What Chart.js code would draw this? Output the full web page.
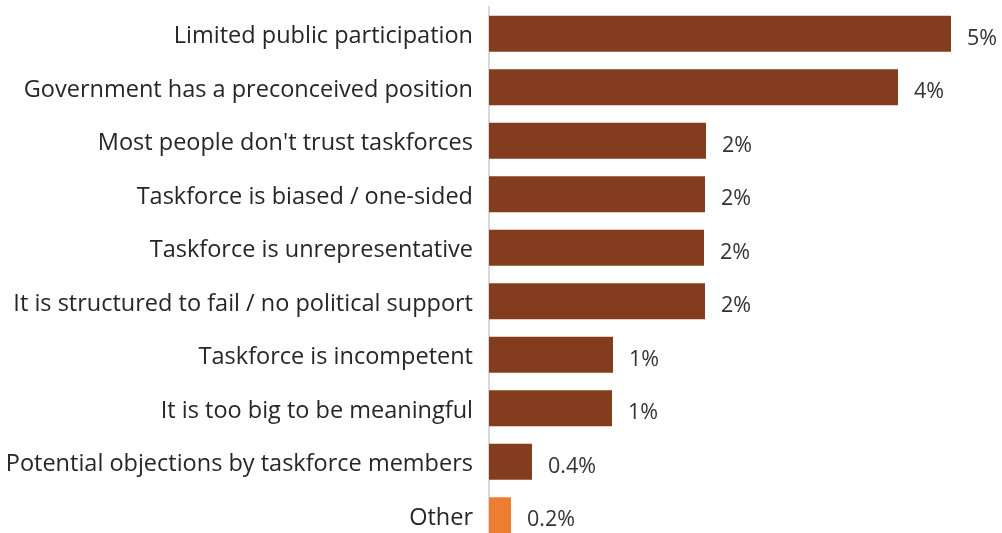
<!DOCTYPE html>
<html>
<head>
<meta charset="utf-8">
<script src="https://cdn.jsdelivr.net/npm/chart.js@4/dist/chart.umd.min.js"></script>
<style>
  html, body { margin: 0; padding: 0; background: #fff; overflow: hidden; }
  #wrap { width: 1002px; height: 550px; position: relative; }
</style>
</head>
<body>
<div id="wrap"><canvas id="c" width="1002" height="550"></canvas></div>
<script>
const categories = [
  "Limited public participation",
  "Government has a preconceived position",
  "Most people don't trust taskforces",
  "Taskforce is biased / one-sided",
  "Taskforce is unrepresentative",
  "It is structured to fail / no political support",
  "Taskforce is incompetent",
  "It is too big to be meaningful",
  "Potential objections by taskforce members",
  "Other"
];
const values = [4.62, 4.09, 2.17, 2.16, 2.15, 2.16, 1.24, 1.23, 0.43, 0.22];
const valueLabels = ["5%", "4%", "2%", "2%", "2%", "2%", "1%", "1%", "0.4%", "0.2%"];
const barColors = ["#843C1E","#843C1E","#843C1E","#843C1E","#843C1E","#843C1E","#843C1E","#843C1E","#843C1E","#ED7D31"];

const FONT = "'Open Sans', Lato, sans-serif";

const valueLabelPlugin = {
  id: 'valueLabels',
  afterDatasetsDraw(chart) {
    const ctx = chart.ctx;
    const meta = chart.getDatasetMeta(0);
    ctx.save();
    ctx.font = "21.5px " + FONT;
    ctx.fillStyle = "#333333";
    ctx.textAlign = "left";
    ctx.textBaseline = "middle";
    meta.data.forEach((bar, i) => {
      ctx.fillText(valueLabels[i], bar.x + 16, bar.y + 5);
    });
    ctx.restore();
  }
};

new Chart(document.getElementById('c'), {
  type: 'bar',
  data: {
    labels: categories,
    datasets: [{
      data: values,
      backgroundColor: barColors,
      borderWidth: 0,
      barPercentage: 0.673,
      categoryPercentage: 1.0
    }]
  },
  options: {
    indexAxis: 'y',
    responsive: false,
    animation: false,
    devicePixelRatio: 1,
    layout: { padding: { top: 7, bottom: 8, left: 0, right: 3 } },
    plugins: { legend: { display: false }, tooltip: { enabled: false } },
    scales: {
      x: {
        display: false,
        min: 0,
        max: 5.1
      },
      y: {
        afterFit(scale) {
          scale.width = 489;
          scale.paddingTop = 0;
          scale.paddingBottom = 0;
        },
        grid: { display: false, drawTicks: false },
        border: { display: true, color: "#D9D9D9", width: 2 },
        ticks: {
          padding: 16,
          labelOffset: 3,
          color: "#262626",
          font: { family: FONT, size: 23.5 }
        }
      }
    }
  },
  plugins: [valueLabelPlugin]
});
</script>
</body>
</html>
